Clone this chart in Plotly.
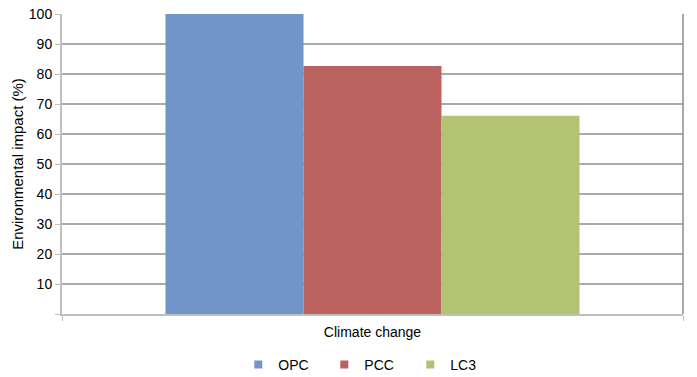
import plotly.graph_objects as go

categories = ["Climate change"]
series_names = ["OPC", "PCC", "LC3"]
opc = [100]
pcc = [82.7]
lc3 = [66.1]
colors = ["#7194C9", "#B9625F", "#B2C472"]
y_ticks = [0, 10, 20, 30, 40, 50, 60, 70, 80, 90, 100]
y_ticktext = [""] + [str(v) for v in y_ticks[1:]]

fig = go.Figure()
for name, vals, c in zip(series_names, [opc, pcc, lc3], colors):
    fig.add_trace(go.Bar(x=categories, y=vals, name=name, showlegend=False,
                         marker=dict(color=c, line=dict(width=0))))
# legend entries with small square swatches
for name, c in zip(series_names, colors):
    fig.add_trace(go.Scatter(x=[None], y=[None], mode="markers", name=name,
                             marker=dict(symbol="square", size=8, color=c)))

font = "Liberation Sans, Arial, sans-serif"
fig.update_layout(
    width=697, height=377,
    margin=dict(l=62, r=14, t=14, b=63, autoexpand=False),
    paper_bgcolor="white", plot_bgcolor="white",
    barmode="group", bargap=1/3, bargroupgap=0,
    font=dict(family=font, size=14, color="black"),
    showlegend=True,
    legend=dict(orientation="h", x=0.527, xanchor="center", xref="container",
                y=12/377, yanchor="middle", yref="container",
                font=dict(size=14), itemwidth=30, entrywidth=41, tracegroupgap=0),
    xaxis=dict(range=[-0.5, 0.5], showgrid=False, showline=True, linecolor="#BFBFBF", linewidth=2,
               ticks="outside", tickson="boundaries", ticklen=5, tickcolor="#BFBFBF",
               tickfont=dict(size=14), automargin=False, ticklabelstandoff=4),
    yaxis=dict(range=[0, 100], tickvals=y_ticks, ticktext=y_ticktext,
               showgrid=True, gridcolor="#AAAAAA", gridwidth=1.5,
               showline=True, linecolor="#BFBFBF", linewidth=2,
               ticks="outside", ticklen=5, tickcolor="#BFBFBF", automargin=False,
               title=dict(text="Environmental impact (%)", font=dict(size=15), standoff=2),
               tickfont=dict(size=14)),
)
# right border of plot area
fig.add_shape(type="line", xref="paper", yref="paper", x0=1, x1=1, y0=0, y1=1,
              line=dict(color="#8C8C8C", width=1.5))

fig.write_html("out.html")
